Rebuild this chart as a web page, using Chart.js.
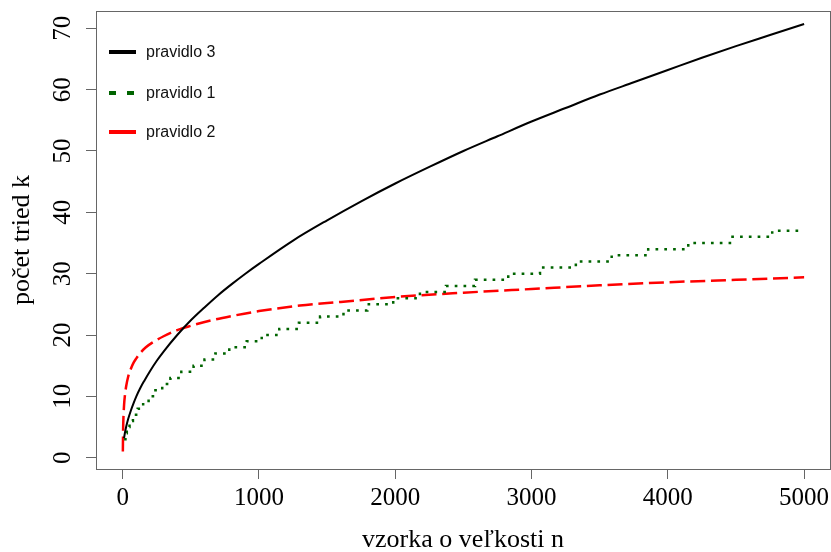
<!DOCTYPE html>
<html lang="sk">
<head>
<meta charset="UTF-8">
<title>Počet tried k</title>
<script src="https://cdn.jsdelivr.net/npm/chart.js"></script>
<style>
  body { margin: 0; background: #fff; }
  #wrap { width: 831px; height: 552px; }
</style>
</head>
<body>
<div id="wrap"><canvas id="chart"></canvas></div>
<script>
// pravidlo 3 - plna ciara
const n3 = [10, 15, 25, 40, 60, 80, 100, 130, 160, 200, 250, 300, 400, 500, 600, 700, 800, 900, 1000, 1250, 1500, 1750, 2000, 2250, 2500, 2750, 3000, 3250, 3500, 3750, 4000, 4250, 4500, 4750, 5000];
const k3 = [3.2, 3.9, 5, 6.3, 7.7, 8.9, 10, 11.4, 12.6, 14.1, 15.8, 17.3, 20, 22.4, 24.5, 26.5, 28.3, 30, 31.6, 35.4, 38.7, 41.8, 44.7, 47.4, 50, 52.4, 54.8, 57, 59.2, 61.2, 63.2, 65.2, 67.1, 68.9, 70.7];

// pravidlo 1 - schody (n, od ktoreho plati k)
const n1 = [10, 20, 30, 50, 75, 110, 150, 190, 240, 290, 350, 430, 520, 600, 680, 782, 910, 1020, 1149, 1293, 1448, 1620, 1795, 1985, 2181, 2372, 2585, 2829, 3062, 3325, 3588, 3856, 4150, 4456, 4766, 5000];
const k1 = [3, 4, 5, 6, 7, 8, 9, 10, 11, 12, 13, 14, 15, 16, 17, 18, 19, 20, 21, 22, 23, 24, 25, 26, 27, 28, 29, 30, 31, 32, 33, 34, 35, 36, 37, 37];

// pravidlo 2 - ciarkovana
const n2 = [1, 3, 6, 10, 15, 25, 40, 60, 80, 100, 130, 170, 220, 300, 400, 500, 650, 800, 1000, 1300, 1600, 2000, 2500, 3000, 3500, 4000, 4500, 5000];
const k2 = [1, 4.6, 6.9, 8.6, 9.9, 11.6, 13.2, 14.5, 15.5, 16.2, 17.1, 18, 18.8, 19.8, 20.8, 21.5, 22.4, 23.1, 23.9, 24.8, 25.4, 26.2, 26.9, 27.5, 28.1, 28.6, 29, 29.4];

const xTicks = [0, 1000, 2000, 3000, 4000, 5000];
const yTicks = [0, 10, 20, 30, 40, 50, 60, 70];
const seriesNames = ['pravidlo 3', 'pravidlo 1', 'pravidlo 2'];

function pts(xs, ys) {
    return xs.map((x, i) => ({ x: x, y: ys[i] }));
}

// ram okolo grafu
const boxPlugin = {
    id: 'box',
    afterDraw(chart) {
        const a = chart.chartArea, ctx = chart.ctx;
        ctx.save();
        ctx.strokeStyle = '#666';
        ctx.lineWidth = 1;
        ctx.strokeRect(a.left + 0.5, a.top + 0.5, a.right - a.left, a.bottom - a.top);
        ctx.restore();
    }
};

// legenda vnutri grafu, bez ramu
const legendPlugin = {
    id: 'insideLegend',
    afterDraw(chart) {
        const ctx = chart.ctx;
        const rows = [52, 93, 132];
        ctx.save();
        chart.data.datasets.forEach((ds, i) => {
            const y = rows[i];
            ctx.strokeStyle = ds.borderColor;
            ctx.lineWidth = 4;
            ctx.setLineDash(ds.legendDash || []);
            ctx.beginPath();
            ctx.moveTo(109, y);
            ctx.lineTo(136, y);
            ctx.stroke();
            ctx.setLineDash([]);
            ctx.fillStyle = '#111';
            ctx.font = '16px "Liberation Sans", Arial, sans-serif';
            ctx.textBaseline = 'middle';
            ctx.textAlign = 'left';
            ctx.fillText(ds.label, 146, y + 1);
        });
        ctx.restore();
    }
};

const serif = '"Liberation Serif", "Times New Roman", serif';

new Chart(document.getElementById('chart'), {
    type: 'line',
    data: {
        datasets: [
            {
                label: seriesNames[0],
                data: pts(n3, k3),
                borderColor: '#000000',
                borderWidth: 2,
                pointRadius: 0,
                cubicInterpolationMode: 'monotone',
                fill: false
            },
            {
                label: seriesNames[1],
                data: pts(n1, k1),
                borderColor: '#006400',
                borderWidth: 2.5,
                borderDash: [2.7, 6.1],
                legendDash: [7, 11],
                pointRadius: 0,
                stepped: true,
                fill: false
            },
            {
                label: seriesNames[2],
                data: pts(n2, k2),
                borderColor: '#ff0000',
                borderWidth: 2.5,
                borderDash: [15, 5.7],
                legendDash: [],
                pointRadius: 0,
                cubicInterpolationMode: 'monotone',
                fill: false
            }
        ]
    },
    options: {
        responsive: true,
        maintainAspectRatio: false,
        animation: false,
        devicePixelRatio: 1,
        layout: { padding: { top: 11, right: 1, left: 0, bottom: 0 } },
        plugins: {
            legend: { display: false },
            tooltip: { enabled: false }
        },
        scales: {
            x: {
                type: 'linear',
                min: -196,
                max: 5190,
                afterBuildTicks: s => { s.ticks = xTicks.map(v => ({ value: v })); },
                afterFit: s => { s.height = 83; s.paddingLeft = 0; s.paddingRight = 0; },
                grid: { drawOnChartArea: false, drawTicks: true, tickLength: 10, color: '#666', lineWidth: 1 },
                border: { display: false },
                ticks: {
                    color: '#000',
                    font: { family: serif, size: 25 },
                    padding: 4,
                    maxRotation: 0,
                    autoSkip: false,
                    callback: v => String(v)
                },
                title: {
                    display: true,
                    text: 'vzorka o veľkosti n',
                    color: '#000',
                    font: { family: serif, size: 26, lineHeight: 0.9 },
                    padding: { top: 0, bottom: 0 }
                }
            },
            y: {
                type: 'linear',
                min: -1.84,
                max: 72.82,
                afterBuildTicks: s => { s.ticks = yTicks.map(v => ({ value: v })); },
                afterFit: s => { s.width = 96; s.paddingTop = 0; s.paddingBottom = 0; },
                grid: { drawOnChartArea: false, drawTicks: true, tickLength: 10, color: '#666', lineWidth: 1 },
                border: { display: false },
                ticks: {
                    color: '#000',
                    font: { family: serif, size: 25 },
                    padding: 10,
                    minRotation: 90,
                    maxRotation: 90,
                    crossAlign: 'center',
                    autoSkip: false,
                    callback: v => String(v)
                },
                title: {
                    display: true,
                    text: 'počet tried k',
                    color: '#000',
                    font: { family: serif, size: 26, lineHeight: 1.2 },
                    padding: { top: 7, bottom: 0 }
                }
            }
        }
    },
    plugins: [boxPlugin, legendPlugin]
});
</script>
</body>
</html>
